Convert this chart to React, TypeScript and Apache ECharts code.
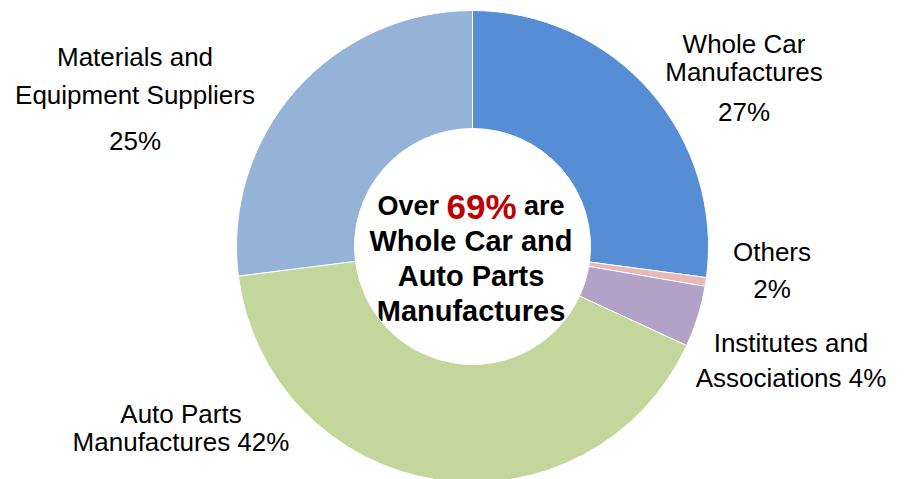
import React, { useEffect, useRef } from "react";
import * as echarts from "echarts";

const categories = [
  "Whole Car Manufactures",
  "Others",
  "Institutes and Associations",
  "Auto Parts Manufactures",
  "Materials and Equipment Suppliers",
];
const values = [27.1, 0.6, 4.2, 41.1, 27.0];
const colors = ["#558ED5", "#E6B9B8", "#B3A2C7", "#C3D69B", "#95B3D7"];
const labelTexts = [
  ["Whole Car", "Manufactures", "27%"],
  ["Others", "2%"],
  ["Institutes and", "Associations 4%"],
  ["Auto Parts", "Manufactures 42%"],
  ["Materials and", "Equipment Suppliers", "25%"],
];

const FONT = "'Liberation Sans', Arial, sans-serif";

const labelSpec = [
  { x: 744, top: 30, lh: [28, 28, 52] },
  { x: 772, top: 237.5, lh: [28, 47] },
  { x: 791, top: 329, lh: [28, 42] },
  { x: 181, top: 400, lh: [28, 28] },
  { x: 135, top: 43, lh: [28, 47, 46] },
];

export default function App() {
  const ref = useRef<HTMLDivElement>(null);
  useEffect(() => {
    if (!ref.current) return;
    const chart = echarts.init(ref.current, undefined, { renderer: "svg" });
    const data = categories.map((name, i) => {
      const lines = labelTexts[i];
      const rich: Record<string, any> = {};
      lines.forEach((_, j) => {
        rich["l" + j] = {
          fontSize: 26,
          fontFamily: FONT,
          color: "#000",
          lineHeight: labelSpec[i].lh[j],
        };
      });
      return {
        name,
        value: values[i],
        itemStyle: { color: colors[i] },
        label: {
          formatter: lines.map((l, j) => `{l${j}|${l}}`).join("\n"),
          rich,
        },
      };
    });
    chart.setOption({
      animation: false,
      series: [
        {
          type: "pie",
          center: [472.5, 246.5],
          radius: [118, 236],
          startAngle: 90,
          clockwise: true,
          avoidLabelOverlap: false,
          itemStyle: { borderColor: "#fff", borderWidth: 1 },
          label: {
            show: true,
            position: "outside",
            fontSize: 26,
            fontFamily: FONT,
            color: "#000",
            align: "center",
          },
          labelLine: { show: false },
          labelLayout: (params: any) => {
            const s = labelSpec[params.dataIndex];
            return { x: s.x, y: s.top, align: "center", verticalAlign: "top" };
          },
          emphasis: { disabled: true },
          data,
        },
      ],
      graphic: [
        {
          type: "text",
          x: 471,
          y: 258.5,
          style: {
            text:
              "{o|Over }{r|69%}{o| are}\n{a|Whole Car and}\n{a|Auto Parts}\n{a|Manufactures}",
            align: "center",
            verticalAlign: "middle",
            rich: {
              o: { fontSize: 27, fontWeight: "bold", fontFamily: FONT, fill: "#000", lineHeight: 35 },
              r: { fontSize: 35, fontWeight: "bold", fontFamily: FONT, fill: "#C00000", lineHeight: 35 },
              a: { fontSize: 29, fontWeight: "bold", fontFamily: FONT, fill: "#000", lineHeight: 35 },
            },
          },
        },
      ],
    });
    return () => chart.dispose();
  }, []);
  return (
    <div
      ref={ref}
      style={{ position: "fixed", left: 0, top: 0, width: 907, height: 479, background: "#fff" }}
    />
  );
}
